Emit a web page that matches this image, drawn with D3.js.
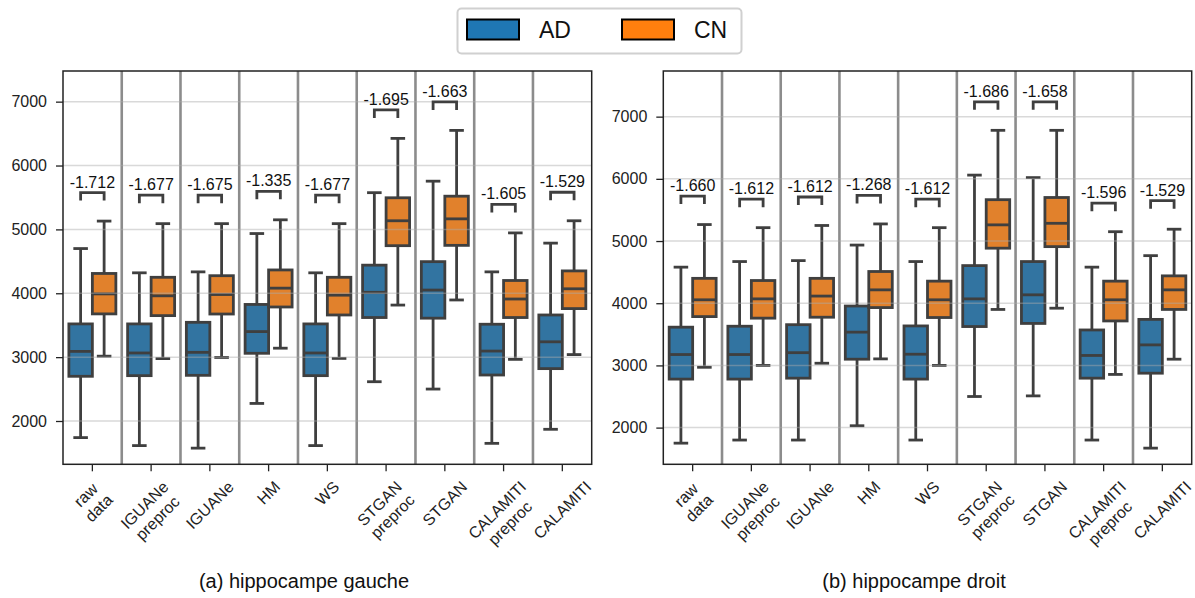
<!DOCTYPE html>
<html><head><meta charset="utf-8">
<script src="https://cdn.jsdelivr.net/npm/d3@7"></script>
<style>body{margin:0;background:#fff;} svg{display:block;font-family:"Liberation Sans",Arial,sans-serif;}</style>
</head><body><svg id="c" width="1195" height="598"></svg>
<script>
// ---------- data ----------
const categories = ["raw\ndata","IGUANe\npreproc","IGUANe","HM","WS","STGAN\npreproc","STGAN","CALAMITI\npreproc","CALAMITI"];
const groups = ["AD","CN"];
const yTicks = [2000,3000,4000,5000,6000,7000];
// each entry: [lower whisker, Q1, median, Q3, upper whisker]
const leftAD = [[1740,2700,3090,3520,4700],[1615,2710,3065,3520,4320],[1575,2715,3075,3545,4335],[2275,3060,3400,3825,4935],[1615,2710,3065,3520,4320],[2615,3620,4015,4440,5575],[2500,3610,4050,4495,5755],[1650,2720,3095,3515,4335],[1870,2820,3240,3660,4785]];
const leftCN = [[3015,3677,3990,4310,5130],[2977,3650,3960,4250,5090],[2995,3675,3980,4275,5090],[3140,3785,4080,4365,5150],[2980,3660,3970,4250,5090],[3815,4745,5135,5495,6425],[3895,4750,5165,5520,6550],[2965,3620,3910,4200,4945],[3040,3760,4070,4350,5135]];
const rightAD = [[1750,2780,3175,3615,4580],[1800,2780,3175,3630,4670],[1800,2795,3205,3655,4685],[2030,3100,3535,3955,4935],[1800,2780,3180,3635,4670],[2500,3625,4070,4605,6060],[2510,3675,4135,4670,6020],[1800,2795,3160,3570,4580],[1670,2875,3330,3740,4765]];
const rightCN = [[2970,3785,4055,4400,5265],[3000,3760,4070,4365,5215],[3035,3775,4115,4400,5250],[3105,3930,4215,4510,5275],[3000,3770,4055,4355,5215],[3900,4885,5260,5665,6780],[3920,4910,5285,5700,6780],[2855,3715,4055,4355,5150],[3100,3900,4215,4440,5190]];
const leftDiff = ["-1.712","-1.677","-1.675","-1.335","-1.677","-1.695","-1.663","-1.605","-1.529"];
const rightDiff = ["-1.660","-1.612","-1.612","-1.268","-1.612","-1.686","-1.658","-1.596","-1.529"];
const titles = ["(a) hippocampe gauche","(b) hippocampe droit"];

// ---------- style ----------
const fills = {AD:"#3274a1", CN:"#e1812c"};
const legendFills = {AD:"#1f77b4", CN:"#ff7f0e"};
const lineCol = "#3f3f3f";
const svg = d3.select("#c");
const yTop = 71, yBot = 464.3;

const panels = [
  {x0:63, x1:591.7, dom:[1322,7480], ad:leftAD, cn:leftCN, diff:leftDiff, title:titles[0], tx:304},
  {x0:663.3, x1:1191.7, dom:[1410,7734], ad:rightAD, cn:rightCN, diff:rightDiff, title:titles[1], tx:914}
];

panels.forEach(p => {
  const x = d3.scaleBand().domain(categories).range([p.x0, p.x1]).padding(0);
  const y = d3.scaleLinear().domain(p.dom).range([yBot, yTop]);
  const hue = d3.scaleBand().domain(groups).range([-0.4*x.bandwidth(), 0.4*x.bandwidth()]).padding(0);
  const g = svg.append("g");

  // category separators
  g.selectAll("line.sep").data(categories.slice(1)).join("line")
    .attr("x1", d => x(d)).attr("x2", d => x(d)).attr("y1", yTop).attr("y2", yBot)
    .attr("stroke", "#8c8c8c").attr("stroke-width", 2.6);

  // boxes
  const rows = [];
  categories.forEach((c, i) => {
    rows.push({c, grp:"AD", s:p.ad[i]});
    rows.push({c, grp:"CN", s:p.cn[i]});
  });
  const bw = hue.bandwidth();
  const bg = g.selectAll("g.box").data(rows).join("g")
    .attr("transform", d => `translate(${x(d.c) + x.bandwidth()/2 + hue(d.grp) + bw/2},0)`);
  bg.append("line").attr("x1",0).attr("x2",0).attr("y1", d=>y(d.s[0])).attr("y2", d=>y(d.s[1]))
    .attr("stroke", lineCol).attr("stroke-width", 2.8);
  bg.append("line").attr("x1",0).attr("x2",0).attr("y1", d=>y(d.s[3])).attr("y2", d=>y(d.s[4]))
    .attr("stroke", lineCol).attr("stroke-width", 2.8);
  [0,4].forEach(k => bg.append("line").attr("x1",-bw/4).attr("x2",bw/4)
    .attr("y1", d=>y(d.s[k])).attr("y2", d=>y(d.s[k]))
    .attr("stroke", lineCol).attr("stroke-width", 2.8).attr("stroke-linecap","square"));
  bg.append("rect").attr("x", -bw/2).attr("width", bw)
    .attr("y", d=>y(d.s[3])).attr("height", d=>y(d.s[1]) - y(d.s[3]))
    .attr("fill", d=>fills[d.grp]).attr("stroke", lineCol).attr("stroke-width", 2.8);
  bg.append("line").attr("x1",-bw/2).attr("x2",bw/2).attr("y1", d=>y(d.s[2])).attr("y2", d=>y(d.s[2]))
    .attr("stroke", lineCol).attr("stroke-width", 2.8);

  // gridlines (on top, translucent)
  g.selectAll("line.grid").data(yTicks).join("line")
    .attr("x1", p.x0).attr("x2", p.x1).attr("y1", d=>y(d)).attr("y2", d=>y(d))
    .attr("stroke", "rgba(170,170,170,0.45)").attr("stroke-width", 1.5);

  // significance brackets
  categories.forEach((c, i) => {
    const xa = x(c) + x.bandwidth()/2 + hue("AD") + bw/2;
    const xc = x(c) + x.bandwidth()/2 + hue("CN") + bw/2;
    const yb = y(Math.max(p.ad[i][4], p.cn[i][4])) - 28.5;
    g.append("path").attr("d", `M${xa},${yb+8}V${yb}H${xc}V${yb+8}`)
      .attr("fill","none").attr("stroke", lineCol).attr("stroke-width", 2.8);
    g.append("text").attr("x", (xa+xc)/2).attr("y", yb - 5).attr("text-anchor","middle")
      .attr("font-size", 16).attr("fill","#111").text(p.diff[i]);
  });

  // frame
  g.append("rect").attr("x", p.x0).attr("y", yTop).attr("width", p.x1 - p.x0).attr("height", yBot - yTop)
    .attr("fill","none").attr("stroke","#222").attr("stroke-width",1.5);

  // y axis
  const ya = svg.append("g").attr("transform", `translate(${p.x0},0)`)
    .call(d3.axisLeft(y).tickValues(yTicks).tickSize(7).tickPadding(9).tickFormat(d3.format("d")));
  ya.select(".domain").remove();
  ya.selectAll(".tick line").attr("stroke","#222").attr("stroke-width",1.3);
  ya.selectAll(".tick text").attr("font-size",16).attr("fill","#222").attr("font-family","Liberation Sans, Arial, sans-serif");

  // x axis ticks
  const xax = svg.append("g").attr("transform", `translate(0,${yBot})`)
    .call(d3.axisBottom(x).tickSize(7).tickFormat(""));
  xax.select(".domain").remove();
  xax.selectAll(".tick line").attr("stroke","#222").attr("stroke-width",1.3);

  // rotated x labels
  categories.forEach(c => {
    const cx = x(c) + x.bandwidth()/2;
    const outer = svg.append("g").attr("transform", `translate(${cx},0)`);
    const inner = outer.append("g");
    const t = inner.append("text").attr("transform","rotate(-45)").attr("text-anchor","middle")
      .attr("font-size",16).attr("fill","#222");
    const lines = c.split("\n");
    lines.forEach((ln, k) => t.append("tspan").attr("x",0).attr("dy", k === 0 ? 0 : "1.15em").text(ln));
    const bb = inner.node().getBBox();
    inner.attr("transform", `translate(${-bb.x - bb.width/2},${478 - bb.y})`);
  });

  // subtitle
  svg.append("text").attr("x", p.tx).attr("y", 588).attr("text-anchor","middle")
    .attr("font-size", 20).attr("fill","#111").text(p.title);
});

// legend
const lg = svg.append("g");
lg.append("rect").attr("x",457.5).attr("y",8.5).attr("width",284).attr("height",45).attr("rx",4)
  .attr("fill","#fff").attr("stroke","#d0d0d0").attr("stroke-width",2);
const legX = d3.scalePoint().domain(groups).range([467, 622]);
groups.forEach(gname => {
  lg.append("rect").attr("x", legX(gname)).attr("y", 19.5).attr("width", 52).attr("height", 20)
    .attr("fill", legendFills[gname]).attr("stroke","#000").attr("stroke-width",2);
  lg.append("text").attr("x", legX(gname) + 72).attr("y", 38).attr("font-size", 23).attr("fill","#111").text(gname);
});
</script></body></html>
